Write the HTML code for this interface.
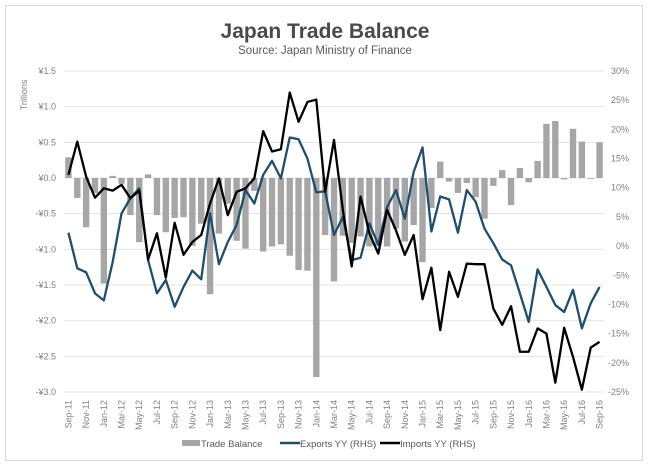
<!DOCTYPE html>
<html><head><meta charset="utf-8"><style>
body{margin:0;background:#fff;}
svg{display:block;font-family:"Liberation Sans",sans-serif;}
</style></head><body>
<svg id="chart" width="650" height="469" viewBox="0 0 650 469">
<rect x="5.5" y="5.5" width="637" height="455" fill="#fff" stroke="#d9d9d9"/>
<text x="325" y="38" text-anchor="middle" font-size="21" font-weight="bold" fill="#4a4a4a">Japan Trade Balance</text>
<text x="325" y="54" text-anchor="middle" font-size="11.5" fill="#595959">Source: Japan Ministry of Finance</text>
<text transform="translate(27,95) rotate(-90)" text-anchor="middle" font-size="9" fill="#808080">Trillions</text>
<g id="grid"></g><g id="bars"></g><g id="lines"></g><g id="axes"></g>
<g>
<rect x="182" y="440" width="18" height="6" fill="#a6a6a6"/>
<text x="201" y="447" font-size="9.5" fill="#595959">Trade Balance</text>
<line x1="280" y1="443" x2="300" y2="443" stroke="#1f4e6e" stroke-width="2.5"/>
<text x="300" y="447" font-size="9.5" fill="#595959">Exports YY (RHS)</text>
<line x1="380" y1="443" x2="400" y2="443" stroke="#000" stroke-width="2.5"/>
<text x="400" y="447" font-size="9.5" fill="#595959">Imports YY (RHS)</text>
</g>
</svg>
<script>
const months = ["Sep-11","Oct-11","Nov-11","Dec-11","Jan-12","Feb-12","Mar-12","Apr-12","May-12","Jun-12","Jul-12","Aug-12","Sep-12","Oct-12","Nov-12","Dec-12","Jan-13","Feb-13","Mar-13","Apr-13","May-13","Jun-13","Jul-13","Aug-13","Sep-13","Oct-13","Nov-13","Dec-13","Jan-14","Feb-14","Mar-14","Apr-14","May-14","Jun-14","Jul-14","Aug-14","Sep-14","Oct-14","Nov-14","Dec-14","Jan-15","Feb-15","Mar-15","Apr-15","May-15","Jun-15","Jul-15","Aug-15","Sep-15","Oct-15","Nov-15","Dec-15","Jan-16","Feb-16","Mar-16","Apr-16","May-16","Jun-16","Jul-16","Aug-16","Sep-16"];
const tradeBalance = [0.29,-0.28,-0.69,-0.21,-1.48,0.03,-0.08,-0.52,-0.90,0.05,-0.52,-0.76,-0.56,-0.55,-0.95,-0.64,-1.63,-0.78,-0.36,-0.88,-0.99,-0.18,-1.03,-0.96,-0.93,-1.09,-1.29,-1.30,-2.79,-0.80,-1.45,-0.81,-0.91,-0.82,-0.96,-0.95,-0.96,-0.71,-0.89,-0.66,-1.18,-0.42,0.23,-0.05,-0.21,-0.07,-0.27,-0.57,-0.11,0.11,-0.38,0.14,-0.06,0.24,0.76,0.80,-0.02,0.69,0.51,-0.01,0.50];
const exportsYY = [2.3,-3.8,-4.5,-8.1,-9.3,-2.7,5.6,8.2,9.9,-2.4,-8.1,-5.8,-10.4,-7.0,-4.2,-5.7,5.6,-3.1,0.7,3.6,9.6,7.3,12.2,14.6,11.6,18.6,18.3,15.0,9.2,9.4,1.9,5.0,-2.4,-2.0,3.9,0.2,6.7,9.6,4.7,12.7,16.9,2.5,8.5,8.0,2.3,9.6,7.6,3.0,0.5,-2.3,-3.3,-8.1,-13.0,-4.0,-7.0,-10.1,-11.3,-7.5,-14.1,-9.8,-7.0];
const importsYY = [12.2,17.9,11.9,8.3,9.9,9.5,10.5,8.2,9.5,-2.3,2.2,-5.4,4.0,-1.5,0.7,1.9,7.3,11.6,5.3,9.3,9.9,11.6,19.7,16.2,16.6,26.3,21.3,24.7,25.1,9.3,18.2,6.2,-3.5,8.5,2.2,-1.3,6.2,2.7,-1.5,1.9,-9.1,-3.7,-14.4,-4.4,-8.7,-3.0,-3.1,-3.1,-10.7,-13.5,-10.3,-18.1,-18.1,-14.1,-15.0,-23.4,-14.0,-19.0,-24.6,-17.4,-16.4];
const leftTicks = [1.5,1.0,0.5,0.0,-0.5,-1.0,-1.5,-2.0,-2.5,-3.0];
const leftTickLabels = ["¥1.5","¥1.0","¥0.5","¥0.0","-¥0.5","-¥1.0","-¥1.5","-¥2.0","-¥2.5","-¥3.0"];
const rightTicks = [30,25,20,15,10,5,0,-5,-10,-15,-20,-25];

const NS="http://www.w3.org/2000/svg";
const X0=64,X1=604,YT=71,YB=392;
const band=(X1-X0)/months.length;
const xc=i=>X0+band*(i+0.5);
const yL=v=>YT+(1.5-v)/4.5*(YB-YT);
const yR=v=>YT+(30-v)/55*(YB-YT);
function mk(tag,attrs,parent){const e=document.createElementNS(NS,tag);for(const k in attrs)e.setAttribute(k,attrs[k]);parent.appendChild(e);return e;}
const grid=document.getElementById('grid'),bars=document.getElementById('bars'),lines=document.getElementById('lines'),axes=document.getElementById('axes');
leftTicks.forEach((t,i)=>{
  const g=mk('line',{x1:X0,x2:X1,y1:yL(t),y2:yL(t),stroke:'#e3e3e3','stroke-width':1},grid);
  
  
  const tx=mk('text',{x:56,y:yL(t)+3,'text-anchor':'end','font-size':9,fill:'#808080'},axes);
  tx.textContent=leftTickLabels[i];
  
  
});
rightTicks.forEach(t=>{
  const tx=mk('text',{x:629,y:yR(t)+3,'text-anchor':'end','font-size':9,fill:'#808080'},axes);
  tx.textContent=t+'%';
  
  
});
tradeBalance.forEach((v,i)=>{
  const y0=yL(0),y=yL(v);
  const r=mk('rect',{x:xc(i)-band*0.36,width:band*0.72,y:Math.min(y0,y),height:Math.max(Math.abs(y-y0),0.8),fill:'#a6a6a6'},bars);
  
  
});
function line(arr,color,name){
  const p=mk('polyline',{points:arr.map((v,i)=>xc(i)+','+yR(v)).join(' '),fill:'none',stroke:color,'stroke-width':2.3,'stroke-linejoin':'round'},lines);
  
  
}
line(exportsYY,'#1f4e6e','exports-line');
line(importsYY,'#000','imports-line');
months.forEach((m,i)=>{
  if(i%2)return;
  const tx=mk('text',{transform:`translate(${xc(i)+3},400) rotate(-90)`,'text-anchor':'end','font-size':9,fill:'#808080'},axes);
  tx.textContent=m;
  
  
});
</script>
</body></html>
